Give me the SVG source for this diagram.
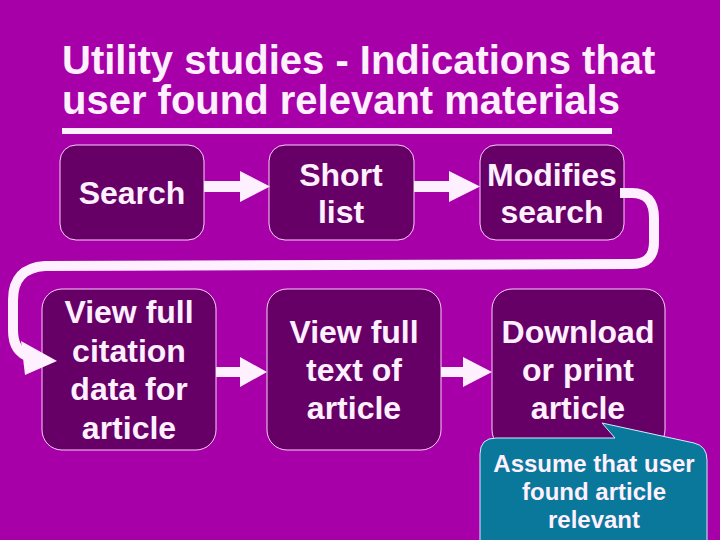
<svg xmlns="http://www.w3.org/2000/svg" width="720" height="540" viewBox="0 0 720 540">
<style>
.t{font-family:"Liberation Sans",Arial,sans-serif;font-weight:bold;fill:#FFF0FF}
.title{font-size:40px}
.bt{font-size:32px;text-anchor:middle}
.ct{font-size:24px;text-anchor:middle}
.box{fill:#660066;stroke:#FFCCFF;stroke-width:1}
.arr{fill:#FFF0FF}
.curve{fill:none;stroke:#FFF0FF;stroke-width:10;stroke-linejoin:round}
</style>
<rect width="720" height="540" fill="#A800A8"/>
<g id="title">
<text class="t title" x="62" y="74">Utility studies - Indications that</text>
<text class="t title" x="62" y="114">user found relevant materials</text>
<rect x="62" y="128" width="550" height="6" fill="#FFF0FF"/>
</g>
<g id="n1"><rect class="box" x="60" y="145" width="144" height="95" rx="16"/>
<text class="t bt" x="132" y="204">Search</text></g>
<g id="n2"><rect class="box" x="269" y="145" width="145" height="95" rx="16"/>
<text class="t bt" x="341" y="186">Short</text><text class="t bt" x="341" y="223">list</text></g>
<g id="n3"><rect class="box" x="480" y="145" width="144" height="95" rx="16"/>
<text class="t bt" x="552" y="186">Modifies</text><text class="t bt" x="552" y="223">search</text></g>
<g id="n4"><rect class="box" x="42" y="289" width="174" height="161" rx="20"/>
<text class="t bt" x="129" y="323">View full</text><text class="t bt" x="129" y="362">citation</text><text class="t bt" x="129" y="400">data for</text><text class="t bt" x="129" y="439">article</text></g>
<g id="n5"><rect class="box" x="267" y="289" width="174" height="161" rx="20"/>
<text class="t bt" x="354" y="343">View full</text><text class="t bt" x="354" y="381">text of</text><text class="t bt" x="354" y="419">article</text></g>
<g id="n6"><rect class="box" x="492" y="289" width="173" height="161" rx="20"/>
<text class="t bt" x="578" y="343">Download</text><text class="t bt" x="578" y="381">or print</text><text class="t bt" x="578" y="419">article</text></g>
<g id="connectors">
<path class="arr" d="M204 181 L240 181 L240 171 L270 186.5 L240 202 L240 192 L204 192 Z"/>
<path class="arr" d="M414 181 L449 181 L449 171 L480 186.5 L449 202 L449 192 L414 192 Z"/>
<path class="arr" d="M216 367 L240 367 L240 357 L267 372 L240 387 L240 377 L216 377 Z"/>
<path class="arr" d="M441 367 L463 367 L463 357 L492 372 L463 387 L463 377 L441 377 Z"/>
<path class="curve" d="M620 193 L632 193 Q654 193 654 218 L654 242 Q654 264 632 264 L45 266 Q13 268 13 300 L13 330 Q13 352 30 357"/>
<polygon class="arr" points="21,341 57,361 25,375"/>
</g>
<g id="callout">
<path d="M496 438 L615 438 L602 423 L694 443 Q707 446 707 460 L707 546 L480 546 L480 454 Q480 438 496 438 Z" fill="#0A789A" stroke="#CCEEFF" stroke-width="1"/>
<text class="t ct" x="594" y="472">Assume that user</text>
<text class="t ct" x="594" y="500">found article</text>
<text class="t ct" x="594" y="528">relevant</text>
</g>
</svg>
